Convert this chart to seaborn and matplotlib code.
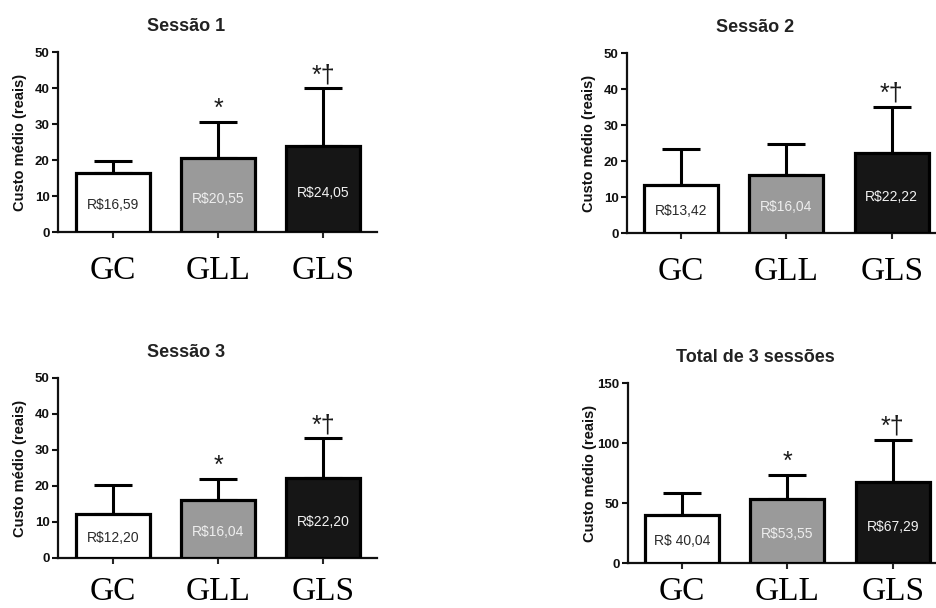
import matplotlib
matplotlib.use("Agg")
import matplotlib.pyplot as plt
import seaborn as sns
import pandas as pd
import numpy as np

# ---------------- data ----------------
groups = ["GC", "GLL", "GLS"]

s1_mean = [16.59, 20.55, 24.05]
s1_err = [3.1, 10.0, 15.9]
s1_lab = ["R$16,59", "R$20,55", "R$24,05"]
s1_sig = ["", "*", "*†"]

s2_mean = [13.42, 16.04, 22.22]
s2_err = [9.8, 8.7, 12.8]
s2_lab = ["R$13,42", "R$16,04", "R$22,22"]
s2_sig = ["", "", "*†"]

s3_mean = [12.20, 16.04, 22.20]
s3_err = [8.0, 6.0, 11.0]
s3_lab = ["R$12,20", "R$16,04", "R$22,20"]
s3_sig = ["", "*", "*†"]

tot_mean = [40.04, 53.55, 67.29]
tot_err = [18.3, 19.8, 35.5]
tot_lab = ["R$ 40,04", "R$53,55", "R$67,29"]
tot_sig = ["", "*", "*†"]

titles = ["Sessão 1", "Sessão 2", "Sessão 3", "Total de 3 sessões"]
ymax = [50, 50, 50, 150]
ystep = [10, 10, 10, 50]
ylabel = "Custo médio (reais)"

bar_colors = ["#ffffff", "#9a9a9a", "#161616"]
text_colors = ["#2a2a2a", "#eeeeee", "#f2f2f2"]

# ---------------- figure ----------------
sns.set_theme(style="ticks")
plt.rcParams["font.family"] = ["Liberation Sans", "DejaVu Sans"]

W, H = 936, 608
fig = plt.figure(figsize=(W / 100, H / 100), dpi=100)

# panel geometry in pixels: left, right, y0 (pixel row of zero), xlim, category label pad
geoms = [
    (58, 377, 232.3, (-0.524, 2.514), 13.0),
    (627, 936, 233.0, (-0.512, 2.42), 13.0),
    (58, 377, 558.0, (-0.524, 2.514), 9.5),
    (628, 936, 563.0, (-0.512, 2.41), 6.0),
]
AX_H = 180.0

panels = [
    (s1_mean, s1_err, s1_lab, s1_sig),
    (s2_mean, s2_err, s2_lab, s2_sig),
    (s3_mean, s3_err, s3_lab, s3_sig),
    (tot_mean, tot_err, tot_lab, tot_sig),
]

for i, ((means, errs, labs, sigs), (l, r, y0, xl, cpad)) in enumerate(zip(panels, geoms)):
    ax = fig.add_axes([l / W, (H - y0) / H, (r - l) / W, AX_H / H])
    df = pd.DataFrame({"grupo": groups, "custo": means})
    sns.barplot(data=df, x="grupo", y="custo", hue="grupo",
                palette=bar_colors, order=groups, hue_order=groups,
                width=0.7, edgecolor="black", linewidth=2.3,
                errorbar=None, legend=False, ax=ax, zorder=3)
    # upper error bars only
    xs = np.arange(len(groups))
    ax.errorbar(xs, means, yerr=[np.zeros(len(errs)), errs], fmt="none",
                ecolor="black", elinewidth=2.2, capsize=13.5, capthick=2.2,
                zorder=2)
    # value labels inside bars
    for x, m, lab, tc in zip(xs, means, labs, text_colors):
        ax.text(x, m * 0.45, lab, ha="center", va="center", fontsize=10,
                color=tc, zorder=5)
    # significance marks
    for x, m, e, s in zip(xs, means, errs, sigs):
        if s:
            ax.annotate(s, xy=(x, m + e), xytext=(0, 4.5), textcoords="offset points",
                        ha="center", va="baseline", fontsize=18, color="#1a1a1a")
    # title
    ax.annotate(titles[i], xy=(0.7, 1.0), xycoords=("data", "axes fraction"),
                xytext=(0, 18.7), textcoords="offset points",
                ha="center", va="center", fontsize=13, fontweight="bold",
                color="#222222")
    ax.set_xlim(*xl)
    ax.set_ylim(0, ymax[i])
    ax.set_yticks(np.arange(0, ymax[i] + 1, ystep[i]))
    ax.set_xticks(xs)
    ax.set_xticklabels(groups, fontsize=24, family=["Liberation Serif"], color="black")
    for t in ax.get_yticklabels():
        t.set_fontweight("bold")
        t.set_fontsize(9.5)
        t.set_color("#111111")
    ax.tick_params(axis="y", length=4, width=1.5, pad=2, colors="#111111")
    ax.tick_params(axis="x", length=4, width=1.5, pad=cpad)
    ax.set_xlabel("")
    ax.set_ylabel(ylabel, fontsize=10.5, fontweight="bold", color="#111111")
    ax.yaxis.set_label_coords(-31 / (r - l), 0.5)
    sns.despine(ax=ax)
    for sp in ("left", "bottom"):
        ax.spines[sp].set_linewidth(1.6)
        ax.spines[sp].set_color("#111111")
    ax.patch.set_alpha(0)

fig.patch.set_facecolor("white")
fig.savefig("out.png", dpi=100, facecolor="white")
